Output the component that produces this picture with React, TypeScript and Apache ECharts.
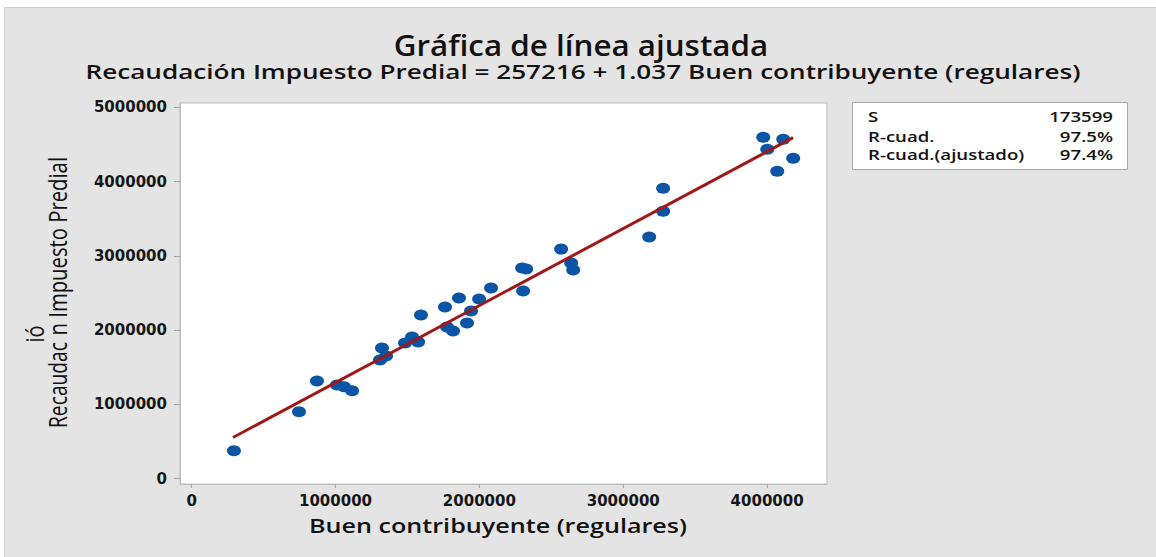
import React, { useEffect, useRef } from "react";
import * as echarts from "echarts";

// Scatter data
const buenContribuyente = [
  294000, 746000, 871000, 1010000, 1059000, 1115000, 1323000, 1351000, 1309000,
  1483000, 1532000, 1574000, 1594000, 1761000, 1775000, 1817000, 1858000, 1914000,
  1942000, 1998000, 2081000, 2304000, 2297000, 2325000, 2568000, 2638000, 2652000,
  3180000, 3277000, 3277000, 3973000, 4112000, 4001000, 4181000, 4070000,
];
const recaudacion = [
  376000, 901000, 1317000, 1263000, 1237000, 1183000, 1761000, 1653000, 1599000,
  1828000, 1909000, 1841000, 2204000, 2312000, 2043000, 1989000, 2433000, 2097000,
  2258000, 2419000, 2567000, 2527000, 2836000, 2823000, 3091000, 2903000, 2809000,
  3253000, 3911000, 3602000, 4597000, 4570000, 4435000, 4315000, 4140000,
];
// Fitted line end points
const fitX = [287000, 4180000];
const fitY = [554835, 4591876];

const xTicks = [0, 1000000, 2000000, 3000000, 4000000];
const yTicks = [0, 1000000, 2000000, 3000000, 4000000, 5000000];

const titleText = "Gráfica de línea ajustada";
const subtitleText = "Recaudación Impuesto Predial = 257216 + 1.037 Buen contribuyente (regulares)";
const xTitle = "Buen contribuyente (regulares)";
const statLabels = ["S", "R-cuad.", "R-cuad.(ajustado)"];
const statValues = ["173599", "97.5%", "97.4%"];

const FONT = "DejaVu Sans";
const SEMI = "Open Sans";

export default function App() {
  const ref = useRef<HTMLDivElement>(null);
  useEffect(() => {
    if (!ref.current) return;
    const chart = echarts.init(ref.current, null, { renderer: "svg" });
    const scatterData = buenContribuyente.map((x, i) => [x, recaudacion[i]]);
    const lineData = fitX.map((x, i) => [x, fitY[i]]);
    const statRowsY = [116, 136, 154];

    const graphic: any[] = [
      { type: "rect", z: 100, shape: { x: 0, y: 0, width: 1156, height: 7 }, style: { fill: "#fff" } },
      { type: "rect", z: 100, shape: { x: 0, y: 0, width: 4, height: 557 }, style: { fill: "#fff" } },
      { type: "line", z: 101, shape: { x1: 4.5, y1: 7.5, x2: 1156, y2: 7.5 }, style: { stroke: "#CFCFCF", lineWidth: 1 } },
      { type: "line", z: 101, shape: { x1: 4.5, y1: 7.5, x2: 4.5, y2: 557 }, style: { stroke: "#CFCFCF", lineWidth: 1 } },
      {
        type: "text", z: 101, x: 581, y: 45, scaleX: 1.12,
        style: { text: titleText, fontFamily: SEMI, fontSize: 28, fontWeight: 600, fill: "#111", align: "center", verticalAlign: "middle" },
      },
      {
        type: "text", z: 101, x: 583, y: 72, scaleX: 1.375,
        style: { text: subtitleText, fontFamily: SEMI, fontSize: 19, fontWeight: 600, fill: "#111", align: "center", verticalAlign: "middle" },
      },
      {
        type: "text", z: 101, x: 498, y: 526, scaleX: 1.29,
        style: { text: xTitle, fontFamily: SEMI, fontSize: 19.5, fontWeight: 600, fill: "#111", align: "center", verticalAlign: "middle" },
      },
      {
        type: "text", z: 101, x: 57, y: 428, rotation: Math.PI / 2, scaleX: 0.74,
        style: { text: "Recaudac", fontFamily: SEMI, fontSize: 26, fill: "#111", align: "left", verticalAlign: "middle" },
      },
      {
        type: "text", z: 101, x: 57, y: 157, rotation: Math.PI / 2, scaleX: 0.78,
        style: { text: "n Impuesto Predial", fontFamily: SEMI, fontSize: 26, fill: "#111", align: "right", verticalAlign: "middle" },
      },
      {
        type: "text", z: 101, x: 35, y: 334, rotation: Math.PI / 2, scaleX: 0.8,
        style: { text: "ió", fontFamily: SEMI, fontSize: 25, fill: "#111", align: "center", verticalAlign: "middle" },
      },
      {
        type: "rect", z: 101, shape: { x: 852.5, y: 102.5, width: 275, height: 67 },
        style: { fill: "#fff", stroke: "#ABABAB", lineWidth: 1 },
      },
    ];
    statLabels.forEach((t, i) => {
      graphic.push({
        type: "text", z: 102, x: 868, y: statRowsY[i], scaleX: 1.33,
        style: { text: t, fontFamily: SEMI, fontSize: 14, fontWeight: 600, fill: "#111", align: "left", verticalAlign: "middle" },
      });
      graphic.push({
        type: "text", z: 102, x: 1113, y: statRowsY[i], scaleX: 1.33,
        style: { text: statValues[i], fontFamily: SEMI, fontSize: 14, fontWeight: 600, fill: "#111", align: "right", verticalAlign: "middle" },
      });
    });

    const labelStyle = {
      fontFamily: FONT,
      fontSize: 15,
      fontWeight: "bold" as const,
      color: "#161616",
      formatter: (v: number) => String(v),
    };

    chart.setOption({
      animation: false,
      backgroundColor: "#E4E4E4",
      grid: {
        left: 180, top: 103, right: 329, bottom: 73,
        show: true, backgroundColor: "#ffffff", borderColor: "#BDBDBD", borderWidth: 1,
      },
      xAxis: {
        type: "value",
        min: -81000,
        max: 4416000,
        splitLine: { show: false },
        axisLine: { show: true, onZero: false, lineStyle: { color: "#BDBDBD" } },
        axisTick: { show: true, customValues: xTicks, length: 4, lineStyle: { color: "#A6A6A6" } },
        axisLabel: { ...labelStyle, customValues: xTicks, margin: 9 },
      },
      yAxis: {
        type: "value",
        min: -71000,
        max: 5058000,
        splitLine: { show: false },
        axisLine: { show: true, onZero: false, lineStyle: { color: "#BDBDBD" } },
        axisTick: { show: true, customValues: yTicks, length: 6, lineStyle: { color: "#A6A6A6" } },
        axisLabel: { ...labelStyle, customValues: yTicks, margin: 13 },
      },
      graphic,
      series: [
        {
          type: "scatter",
          data: scatterData,
          symbol: "circle",
          symbolSize: [14, 11],
          itemStyle: { color: "#0A55A5", opacity: 1 },
          z: 2,
        },
        {
          type: "line",
          data: lineData,
          symbol: "none",
          lineStyle: { color: "#9E1A1A", width: 3 },
          z: 3,
        },
      ],
    });
    return () => chart.dispose();
  }, []);

  return (
    <div
      ref={ref}
      style={{ position: "absolute", left: 0, top: 0, width: 1156, height: 557 }}
    />
  );
}
